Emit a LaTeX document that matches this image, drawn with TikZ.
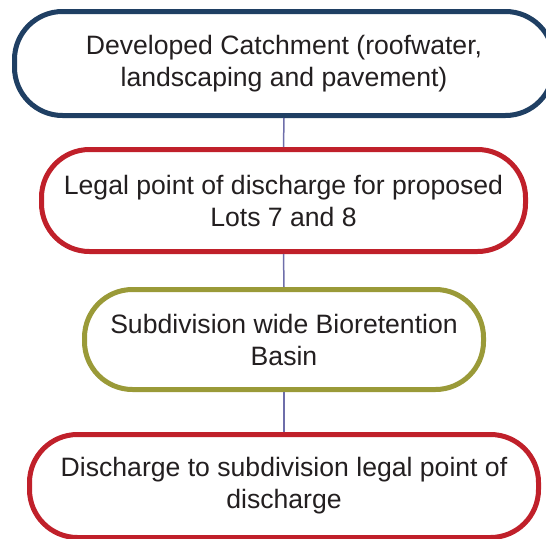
\documentclass[tikz,border=0pt]{standalone}
\usepackage{fontspec}
\setmainfont{Liberation Sans}
\definecolor{navyc}{HTML}{1F3F63}
\definecolor{redc}{HTML}{C0202A}
\definecolor{olivec}{HTML}{9A9A38}
\definecolor{linkc}{HTML}{6E6EAA}
\definecolor{textc}{HTML}{231F20}
\begin{document}
\begin{tikzpicture}[x=1pt,y=-1pt,
  box/.style={draw, line width=5pt, rounded corners=48pt, align=center,
    font=\fontsize{26.6}{32}\selectfont, text=textc, inner sep=0pt, fill=white},
  link/.style={draw=linkc, line width=1.5pt}]
\useasboundingbox (0,0) rectangle (546,538);
\clip (0,0) rectangle (546,538);
\node[box, draw=navyc, minimum width=539pt, minimum height=104pt] (b1) at (284,63.5)
  {Developed Catchment (roofwater,\\landscaping and pavement)};
\node[box, draw=redc, minimum width=484pt, minimum height=102pt] (b2) at (283.5,200.5)
  {Legal point of discharge for proposed\\Lots 7 and 8};
\node[box, draw=olivec, minimum width=399pt, minimum height=100pt] (b3) at (284,339.5)
  {Subdivision wide Bioretention\\Basin};
\node[box, draw=redc, minimum width=509pt, minimum height=103pt] (b4) at (284,486)
  {Discharge to subdivision legal point of\\discharge};
\draw[link] (b1.south) -- (b2.north);
\draw[link] (b2.south) -- (b3.north);
\draw[link] (b3.south) -- (b4.north);
\end{tikzpicture}
\end{document}
